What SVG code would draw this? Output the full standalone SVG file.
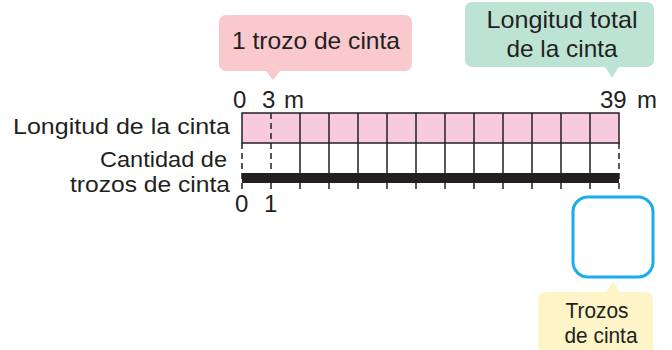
<svg xmlns="http://www.w3.org/2000/svg" width="672" height="350" viewBox="0 0 672 350">
<style>
text{font-family:"Liberation Sans","Noto Sans",sans-serif;font-size:22px;fill:#231f20}
.n{font-size:24px}
.g{stroke:#231f20;stroke-width:1.5;fill:none}
.d{stroke:#231f20;stroke-width:1.5;stroke-dasharray:6 4;fill:none}
</style>
<rect width="672" height="350" fill="#ffffff"/>
<g id="callout-trozo">
<path d="M226,15 H405 a7,7 0 0 1 7,7 V64 a7,7 0 0 1 -7,7 H280 L273,80 L266,71 H226 a7,7 0 0 1 -7,-7 V22 a7,7 0 0 1 7,-7 Z" fill="#f9c9cd"/>
<text class="n" x="316" y="49" text-anchor="middle" textLength="168" lengthAdjust="spacingAndGlyphs">1 trozo de cinta</text>
</g>
<g id="callout-total">
<path d="M472,2 H647 a7,7 0 0 1 7,7 V60 a7,7 0 0 1 -7,7 H619 L612,78 L605,67 H472 a7,7 0 0 1 -7,-7 V9 a7,7 0 0 1 7,-7 Z" fill="#bde3d5"/>
<text class="n" x="562" y="28" text-anchor="middle" textLength="151" lengthAdjust="spacingAndGlyphs">Longitud total</text>
<text class="n" x="562" y="57" text-anchor="middle" textLength="111" lengthAdjust="spacingAndGlyphs">de la cinta</text>
</g>
<g id="strip">
<rect x="242" y="113" width="377" height="30" fill="#f8cade" stroke="#231f20" stroke-width="1.5"/>
<rect x="242" y="173" width="377" height="10" fill="#231f20"/>
</g>
<g id="connectors">
<path class="g" d="M300,113V189 M329,113V189 M358,113V189 M387,113V189 M416,113V189 M445,113V189 M474,113V189 M503,113V189 M532,113V189 M561,113V189 M590,113V189"/>
<path class="d" d="M242,143V189 M619,143V189"/>
<path class="d" d="M271,113V189"/>
</g>
<g id="labels">
<text class="n" x="233" y="108">0</text>
<text class="n" y="108"><tspan x="262">3</tspan> <tspan x="284">m</tspan></text>
<text class="n" y="108"><tspan x="600">39</tspan> <tspan x="637">m</tspan></text>
<text x="13" y="134" textLength="217" lengthAdjust="spacingAndGlyphs">Longitud de la cinta</text>
<text x="100" y="167" textLength="127" lengthAdjust="spacingAndGlyphs">Cantidad de</text>
<text x="70" y="192" textLength="160" lengthAdjust="spacingAndGlyphs">trozos de cinta</text>
<text class="n" x="235" y="212">0</text>
<text class="n" x="264" y="212">1</text>
</g>
<g id="answer-box">
<rect x="573" y="197" width="80" height="80" rx="15" fill="#ffffff" stroke="#1aaee8" stroke-width="3"/>
</g>
<g id="callout-trozos">
<path d="M545,292 H606 L613,281 L620,292 H646 a7,7 0 0 1 7,7 V352 H538 V299 a7,7 0 0 1 7,-7 Z" fill="#fdf5c8"/>
<text x="597" y="318" text-anchor="middle" textLength="63" lengthAdjust="spacingAndGlyphs">Trozos</text>
<text x="601" y="343" text-anchor="middle" textLength="73" lengthAdjust="spacingAndGlyphs">de cinta</text>
</g>
</svg>
